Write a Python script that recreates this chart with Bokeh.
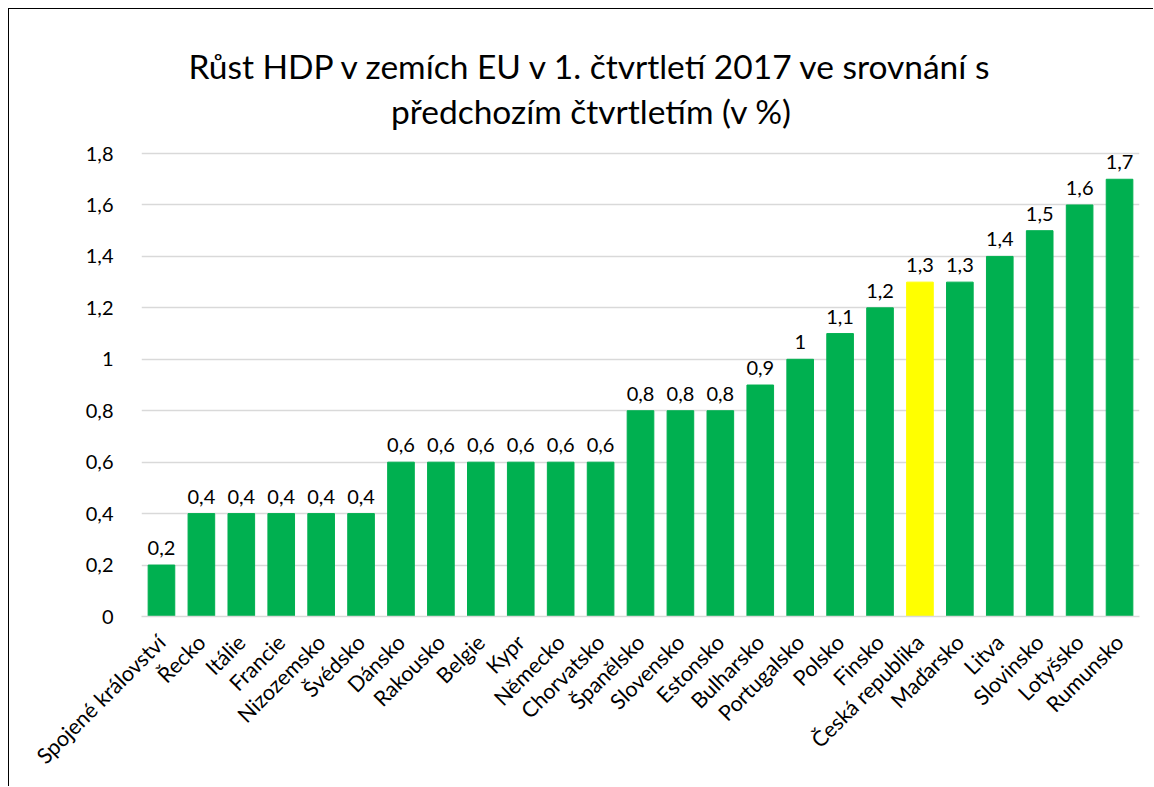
import math
from bokeh.plotting import figure
from bokeh.models import ColumnDataSource, Range1d, FixedTicker, CustomJSTickFormatter, Label
from bokeh.core.properties import value
from bokeh.embed import file_html
from bokeh.resources import INLINE

countries = ["Spojené království", "Řecko", "Itálie", "Francie", "Nizozemsko", "Švédsko",
             "Dánsko", "Rakousko", "Belgie", "Kypr", "Německo", "Chorvatsko", "Španělsko",
             "Slovensko", "Estonsko", "Bulharsko", "Portugalsko", "Polsko", "Finsko",
             "Česká republika", "Maďarsko", "Litva", "Slovinsko", "Lotyšsko", "Rumunsko"]
growth = [0.2, 0.4, 0.4, 0.4, 0.4, 0.4, 0.6, 0.6, 0.6, 0.6, 0.6, 0.6, 0.8, 0.8, 0.8,
          0.9, 1.0, 1.1, 1.2, 1.3, 1.3, 1.4, 1.5, 1.6, 1.7]
highlight = "Česká republika"
y_ticks = [0, 0.2, 0.4, 0.6, 0.8, 1.0, 1.2, 1.4, 1.6, 1.8]
title_lines = ["Růst HDP v zemích EU v 1. čtvrtletí 2017 ve srovnání s",
               "předchozím čtvrtletím (v %)"]

GREEN = "#00B050"
YELLOW = "#FFFF00"
FONT = "Lato"
FS = "20px"

def fmt(v):
    s = ("%g" % v)
    return s.replace(".", ",")

src = ColumnDataSource(dict(
    x=countries,
    y=growth,
    color=[YELLOW if c == highlight else GREEN for c in countries],
    lbl=[fmt(v) for v in growth],
))

# y range extends above the axis maximum to leave room for the title inside the frame
p = figure(x_range=countries, y_range=Range1d(0, 2.36),
           width=1145, height=778, output_backend="svg", toolbar_location=None,
           min_border_left=132, min_border_right=15, min_border_top=0, min_border_bottom=171)

p.styles = {"margin-left": "8px", "margin-top": "8px",
            "border-left": "1px solid #000", "border-top": "1px solid #000"}

p.vbar(x="x", top="y", width=0.667, color="color", source=src)
p.text(x="x", y="y", text="lbl", source=src, text_align="center", text_baseline="alphabetic",
       y_offset=-17, text_font=value(FONT), text_font_size=FS, text_color="#000000")

# two-line title
for line, ypos in zip(title_lines, [2.142, 1.967]):
    p.add_layout(Label(x=11.27, y=ypos, text=line,
                       text_align="center", text_baseline="alphabetic",
                       text_font=FONT, text_font_size="33.5px", text_color="#000000"))

p.outline_line_color = None
p.xgrid.grid_line_color = None
p.ygrid.grid_line_color = "#d9d9d9"
p.ygrid.grid_line_width = 1.5

p.yaxis.ticker = FixedTicker(ticks=y_ticks)
p.yaxis.formatter = CustomJSTickFormatter(code="return String(Math.round(tick*10)/10).replace('.', ',');")
p.yaxis.axis_line_color = None
p.yaxis.major_tick_line_color = None
p.yaxis.minor_tick_line_color = None
p.yaxis.major_label_text_font = FONT
p.yaxis.major_label_text_font_size = FS
p.yaxis.major_label_text_color = "#000000"
p.yaxis.major_label_standoff = 22

p.xaxis.axis_line_color = "#d9d9d9"
p.xaxis.axis_line_width = 1.5
p.xaxis.major_tick_line_color = None
p.xaxis.minor_tick_line_color = None
p.xaxis.major_label_orientation = math.pi / 4
p.xaxis.major_label_text_font = FONT
p.xaxis.major_label_text_font_size = "21.5px"
p.xaxis.major_label_text_color = "#000000"
p.xaxis.major_label_standoff = 16
p.x_range.range_padding = 0

open("out.html", "w").write(file_html(p, INLINE))
